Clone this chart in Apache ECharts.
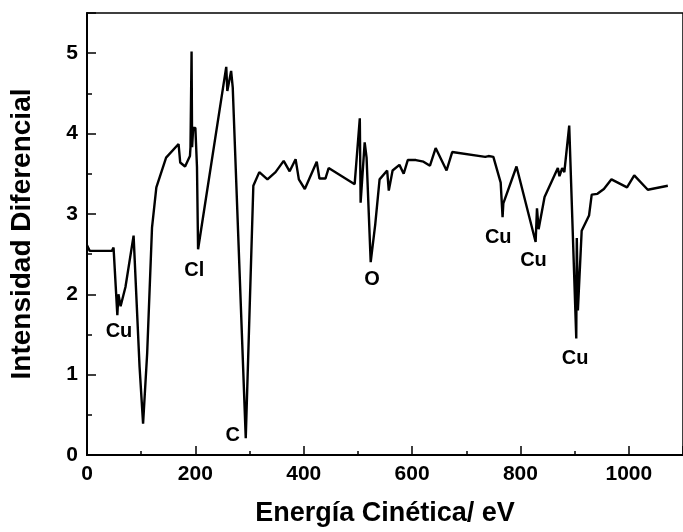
<!DOCTYPE html>
<html><head><meta charset="utf-8">
<script src="https://cdn.jsdelivr.net/npm/echarts@6/dist/echarts.min.js"></script>
<style>html,body{margin:0;padding:0;background:#fff}#c{width:683px;height:532px}</style>
</head><body><div id="c"></div>
<script>
const energy = [0,5,46,49,56,58,62,71,86,97,103.5,111,120,128,146,169,172,181,190,191,193,194,196,200,203,205,257,259,266,269,293,307,318,333,348,363,374,385,391,402,424,429,440,446,494,503.5,505,512.5,516,523.6,532,540,554,557,564,576.6,584.5,592,607,621,633,643.5,663.6,674,735,741,750,763.5,767,768.4,792.7,828,830.5,833.5,844.5,869,872,877,881,890,903,904,906,913,926.6,931.5,942,954,968,996.7,1010,1035,1072];
const intensity = [2.61,2.54,2.54,2.58,1.74,2.0,1.85,2.09,2.73,1.10,0.39,1.26,2.83,3.33,3.70,3.87,3.64,3.59,3.72,3.83,5.02,3.83,4.07,4.07,3.58,2.56,4.83,4.53,4.78,4.57,0.21,3.35,3.52,3.43,3.52,3.66,3.53,3.68,3.43,3.31,3.65,3.44,3.44,3.57,3.37,4.19,3.14,3.89,3.70,2.40,2.87,3.43,3.54,3.29,3.54,3.61,3.50,3.67,3.67,3.65,3.60,3.82,3.54,3.77,3.71,3.72,3.71,3.39,2.96,3.13,3.59,2.65,3.07,2.81,3.21,3.57,3.47,3.57,3.52,4.10,1.45,2.70,1.80,2.79,2.98,3.24,3.25,3.31,3.43,3.33,3.48,3.30,3.35];
const annText = ['Cu','Cl','C','O','Cu','Cu','Cu'];
const annX = [59,198,269,526,759,824,901];
const annY = [1.54,2.30,0.24,2.18,2.71,2.42,1.20];
const xTitle = 'Energía Cinética/ eV';
const yTitle = 'Intensidad Diferencial';

const FONT = '"Liberation Sans", Arial, sans-serif';
const chart = echarts.init(document.getElementById('c'), null, {renderer:'canvas'});
chart.setOption({
  animation:false,
  backgroundColor:'#fff',
  grid:{left:86,top:13,bottom:77,right:-5,show:true,borderColor:'#000',borderWidth:1.5,containLabel:false},
  xAxis:{type:'value',min:0,max:1100,interval:200,
    name:xTitle,nameLocation:'middle',nameGap:45,
    nameTextStyle:{fontFamily:FONT,fontWeight:'bold',fontSize:27,color:'#000'},
    axisLine:{show:true,lineStyle:{color:'#000',width:2}},
    axisTick:{show:true,inside:true,length:9,lineStyle:{color:'#000',width:1.5}},
    minorTick:{show:true,splitNumber:2,length:4,lineStyle:{color:'#000',width:1.5}},
    axisLabel:{fontFamily:FONT,fontWeight:'bold',fontSize:21,color:'#000',margin:9,showMaxLabel:false,formatter:v=>String(v)},
    splitLine:{show:false}},
  yAxis:{type:'value',min:0,max:5.5,interval:1,
    name:yTitle,nameLocation:'middle',nameGap:51,nameRotate:90,
    nameTextStyle:{fontFamily:FONT,fontWeight:'bold',fontSize:28,color:'#000'},
    axisLine:{show:true,lineStyle:{color:'#000',width:2}},
    axisTick:{show:true,inside:true,length:9,lineStyle:{color:'#000',width:1.5}},
    minorTick:{show:true,splitNumber:2,length:5,lineStyle:{color:'#000',width:1.5}},
    axisLabel:{fontFamily:FONT,fontWeight:'bold',fontSize:21,color:'#000',margin:9,showMaxLabel:false,formatter:v=>String(v)},
    splitLine:{show:false}},
  series:[
    {type:'line',data:energy.map((e,i)=>[e,intensity[i]]),symbol:'none',
     lineStyle:{color:'#000',width:2.4},itemStyle:{color:'#000'},clip:true},
    {type:'scatter',symbolSize:0,silent:true,itemStyle:{opacity:1,color:'#000'},
     data:annText.map((t,i)=>({name:t,value:[annX[i],annY[i]]})),
     label:{show:true,position:'inside',formatter:'{b}',fontFamily:FONT,fontWeight:'bold',fontSize:20,color:'#000',opacity:1}}
  ]
});
</script></body></html>
